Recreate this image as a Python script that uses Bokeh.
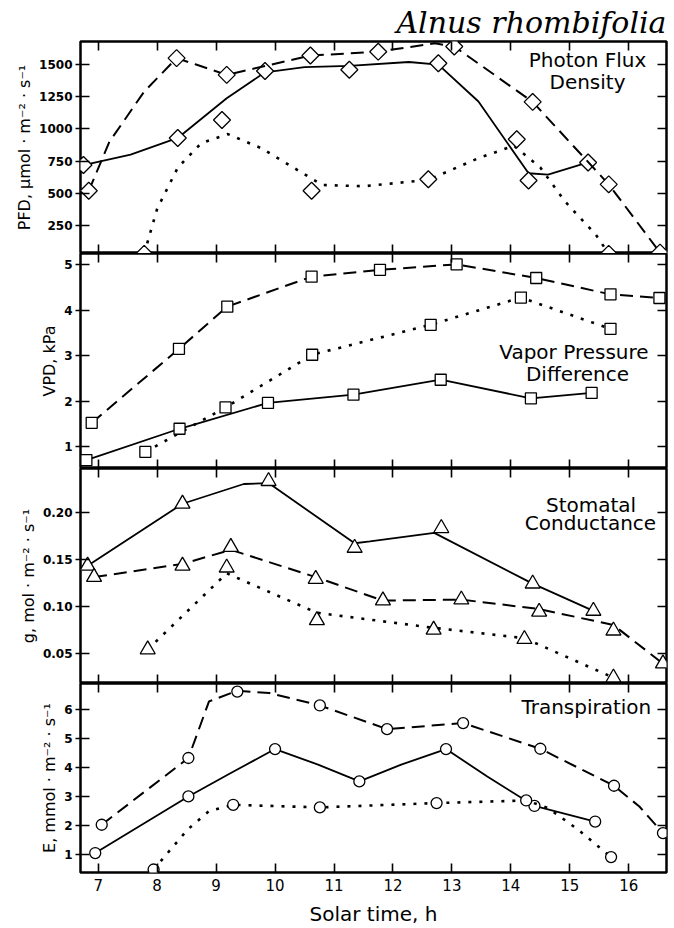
from bokeh.plotting import figure
from bokeh.layouts import column
from bokeh.models import Range1d, LinearAxis, FixedTicker, Label, Title, PrintfTickFormatter
from bokeh.embed import file_html
from bokeh.resources import INLINE

# ---------------- data ----------------
hours = [7, 8, 9, 10, 11, 12, 13, 14, 15, 16]

# Photon flux density (umol m-2 s-1)
pfd_solid_x = [6.75, 8.35, 9.83, 11.26, 12.77, 14.30, 15.31]
pfd_solid_y = [720, 930, 1450, 1460, 1510, 600, 740]
pfd_solid_lx = [6.75, 7.55, 8.35, 9.18, 9.83, 10.5, 11.26, 12.27, 12.77, 13.45, 14.3, 14.63, 15.31]
pfd_solid_ly = [720, 800, 930, 1238, 1440, 1480, 1490, 1520, 1500, 1213, 656, 645, 740]

pfd_dash_x = [6.84, 8.33, 9.18, 10.60, 11.75, 13.04, 14.37, 15.66, 16.53]
pfd_dash_y = [520, 1550, 1420, 1570, 1600, 1640, 1210, 570, 40]
pfd_dash_lx = [6.84, 7.19, 7.78, 8.33, 8.66, 9.18, 10.60, 11.75, 12.71, 13.04, 14.37, 15.66, 16.53]
pfd_dash_ly = [520, 900, 1290, 1550, 1500, 1420, 1570, 1600, 1665, 1640, 1210, 570, 40]

pfd_dot_x = [7.78, 9.10, 10.62, 12.60, 14.10, 15.66]
pfd_dot_y = [30, 1070, 520, 610, 920, 30]
pfd_dot_lx = [7.78, 8.0, 8.35, 8.75, 9.20, 9.77, 10.8, 11.5, 12.6, 13.45, 14.05, 14.5, 14.92, 15.44, 15.66]
pfd_dot_ly = [30, 380, 700, 890, 960, 850, 565, 555, 605, 773, 870, 700, 436, 180, 30]

# Vapor pressure difference (kPa)
vpd_dash_x = [6.89, 8.37, 9.19, 10.62, 11.78, 13.08, 14.43, 15.69, 16.52]
vpd_dash_y = [1.52, 3.15, 4.08, 4.74, 4.89, 5.01, 4.71, 4.35, 4.27]
vpd_dot_x = [7.80, 9.16, 10.63, 12.64, 14.17, 15.69]
vpd_dot_y = [0.88, 1.86, 3.02, 3.68, 4.28, 3.59]
vpd_solid_x = [6.80, 8.38, 9.88, 11.33, 12.81, 14.34, 15.37]
vpd_solid_y = [0.70, 1.39, 1.96, 2.14, 2.47, 2.06, 2.18]

# Stomatal conductance (mol m-2 s-1)
g_solid_x = [6.82, 8.43, 9.89, 11.35, 12.82, 14.37, 15.40]
g_solid_y = [0.143, 0.209, 0.233, 0.162, 0.183, 0.124, 0.095]
g_solid_lx = [6.82, 8.43, 9.47, 9.89, 11.35, 11.61, 12.70, 14.37, 15.40]
g_solid_ly = [0.143, 0.209, 0.230, 0.231, 0.167, 0.169, 0.178, 0.124, 0.095]

g_dash_x = [6.93, 8.43, 9.25, 10.69, 11.83, 13.16, 14.48, 15.74, 16.58]
g_dash_y = [0.131, 0.143, 0.163, 0.129, 0.106, 0.107, 0.094, 0.074, 0.039]
g_dash_lx = [6.93, 8.43, 9.25, 10.69, 11.83, 13.16, 14.48, 15.74, 16.58]
g_dash_ly = [0.131, 0.145, 0.160, 0.131, 0.106, 0.107, 0.097, 0.080, 0.039]

g_dot_x = [7.84, 9.18, 10.71, 12.69, 14.23, 15.74]
g_dot_y = [0.054, 0.141, 0.085, 0.075, 0.065, 0.024]
g_dot_lx = [7.84, 9.18, 10.71, 12.69, 14.23, 15.74]
g_dot_ly = [0.054, 0.135, 0.093, 0.077, 0.066, 0.024]

# Transpiration (mmol m-2 s-1)
e_dash_x = [7.06, 8.53, 9.36, 10.76, 11.90, 13.19, 14.50, 15.75, 16.58]
e_dash_y = [2.02, 4.33, 6.63, 6.15, 5.33, 5.54, 4.65, 3.37, 1.73]
e_dash_lx = [7.06, 8.53, 8.88, 9.36, 9.9, 10.76, 11.90, 13.19, 14.50, 15.75, 16.18, 16.58]
e_dash_ly = [2.02, 4.33, 6.29, 6.66, 6.58, 6.15, 5.33, 5.54, 4.65, 3.37, 2.65, 1.73]

e_solid_x = [6.95, 8.53, 10.00, 11.43, 12.90, 14.40, 15.43]
e_solid_y = [1.04, 3.00, 4.64, 3.52, 4.64, 2.67, 2.13]
e_solid_lx = [6.95, 8.53, 9.25, 10.00, 10.73, 11.43, 12.14, 12.90, 13.60, 14.40, 15.43]
e_solid_ly = [1.04, 3.00, 3.81, 4.64, 4.10, 3.52, 4.10, 4.64, 3.69, 2.67, 2.13]

e_dot_x = [7.94, 9.29, 10.76, 12.74, 14.26, 15.70]
e_dot_y = [0.47, 2.71, 2.62, 2.77, 2.86, 0.90]
e_dot_lx = [7.94, 8.52, 8.88, 9.29, 10.76, 12.74, 14.26, 14.63, 15.14, 15.70]
e_dot_ly = [0.47, 1.86, 2.49, 2.71, 2.62, 2.77, 2.86, 2.60, 1.85, 0.90]

pfd_ticks = [250, 500, 750, 1000, 1250, 1500]
vpd_ticks = [1, 2, 3, 4, 5]
g_ticks = [0.05, 0.10, 0.15, 0.20]
e_ticks = [1, 2, 3, 4, 5, 6]

# ---------------- styling ----------------
SANS = "DejaVu Sans"
FW = 586
xr = Range1d(6.70, 16.64)

DASH = {"solid": "solid", "dash": "13 7", "dot": "3 8"}
LW = {"solid": 1.8, "dash": 2.0, "dot": 2.6}


def tick_only_axis(ticks):
    ax = LinearAxis(ticker=FixedTicker(ticks=ticks))
    ax.axis_line_color = None
    ax.major_tick_in = 9
    ax.major_tick_out = 0
    ax.major_tick_line_width = 1.6
    ax.major_tick_line_color = "black"
    ax.minor_tick_line_color = None
    ax.major_label_text_color = None
    ax.major_label_text_font_size = "1px"
    ax.major_label_standoff = 0
    return ax


def make_panel(frame_h, yr, yticks, ylabel, fmt=None, last=False):
    p = figure(frame_width=FW, frame_height=frame_h, x_range=xr, y_range=Range1d(*yr),
               output_backend="svg", toolbar_location=None,
               x_axis_location=None, y_axis_location=None,
               min_border_left=80, min_border_right=2, min_border_top=0, min_border_bottom=0)
    p.xgrid.visible = False
    p.ygrid.visible = False
    p.outline_line_color = "black"
    p.outline_line_width = 2.5
    p.background_fill_color = "white"
    p.border_fill_color = "white"

    left = LinearAxis(ticker=FixedTicker(ticks=yticks), axis_label=ylabel)
    left.axis_line_color = None
    left.major_tick_in = 9
    left.major_tick_out = 5
    left.major_tick_line_width = 1.6
    left.major_tick_line_color = "black"
    left.minor_tick_line_color = None
    left.major_label_text_font = SANS
    left.major_label_text_font_style = "bold"
    left.major_label_text_font_size = "12px"
    left.major_label_text_color = "black"
    left.major_label_standoff = 3
    left.axis_label_text_font = SANS
    left.axis_label_text_font_style = "normal"
    left.axis_label_text_font_size = "16px"
    left.axis_label_text_color = "black"
    left.axis_label_standoff = 2
    if fmt:
        left.formatter = PrintfTickFormatter(format=fmt)
    p.add_layout(left, "left")

    p.add_layout(tick_only_axis(yticks), "right")
    p.add_layout(tick_only_axis(hours), "above")

    if last:
        bot = LinearAxis(ticker=FixedTicker(ticks=hours), axis_label="Solar time, h")
        bot.axis_line_color = None
        bot.major_tick_in = 9
        bot.major_tick_out = 0
        bot.major_tick_line_width = 1.6
        bot.major_tick_line_color = "black"
        bot.minor_tick_line_color = None
        bot.major_label_text_font = SANS
        bot.major_label_text_font_size = "15px"
        bot.major_label_text_color = "black"
        bot.major_label_standoff = 6
        bot.axis_label_text_font = SANS
        bot.axis_label_text_font_style = "normal"
        bot.axis_label_text_font_size = "20px"
        bot.axis_label_text_color = "black"
        bot.axis_label_standoff = 8
        p.add_layout(bot, "below")
    else:
        p.add_layout(tick_only_axis(hours), "below")
    return p


def series(p, lx, ly, mx, my, style, marker, size, angle=0.0):
    p.line(lx, ly, line_color="black", line_width=LW[style], line_dash=DASH[style])
    p.scatter(mx, my, marker=marker, size=size, angle=angle, fill_color="white",
              line_color="black", line_width=1.3)


def label(p, x, y, text):
    p.add_layout(Label(x=x, y=y, text=text, text_align="center", text_baseline="middle",
                       text_font=SANS, text_font_size="20px", text_color="black"))


# Panel 1: PFD
p1 = make_panel(212, (33, 1679), pfd_ticks, "PFD, \u03bcmol \u00b7 m\u207b\u00b2 \u00b7 s\u207b\u00b9")
p1.title = Title(text="Alnus rhombifolia", align="right", text_font="DejaVu Serif",
                 text_font_style="italic", text_font_size="30px", text_color="black",
                 standoff=4, offset=0)
ROT = 0.785398
series(p1, pfd_solid_lx, pfd_solid_ly, pfd_solid_x, pfd_solid_y, "solid", "square", 12, ROT)
series(p1, pfd_dash_lx, pfd_dash_ly, pfd_dash_x, pfd_dash_y, "dash", "square", 12, ROT)
series(p1, pfd_dot_lx, pfd_dot_ly, pfd_dot_x, pfd_dot_y, "dot", "square", 12, ROT)
label(p1, 15.3, 1539, "Photon Flux")
label(p1, 15.3, 1368, "Density")

# Panel 2: VPD
p2 = make_panel(215, (0.515, 5.25), vpd_ticks, "VPD, kPa")
series(p2, vpd_dash_x, vpd_dash_y, vpd_dash_x, vpd_dash_y, "dash", "square", 11)
series(p2, vpd_dot_x, vpd_dot_y, vpd_dot_x, vpd_dot_y, "dot", "square", 11)
series(p2, vpd_solid_x, vpd_solid_y, vpd_solid_x, vpd_solid_y, "solid", "square", 11)
label(p2, 15.07, 3.09, "Vapor Pressure")
label(p2, 15.13, 2.59, "Difference")

# Panel 3: g
p3 = make_panel(215, (0.0178, 0.2465), g_ticks, "g, mol \u00b7 m\u207b\u00b2 \u00b7 s\u207b\u00b9", fmt="%.2f")
series(p3, g_solid_lx, g_solid_ly, g_solid_x, g_solid_y, "solid", "triangle", 15)
series(p3, g_dash_lx, g_dash_ly, g_dash_x, g_dash_y, "dash", "triangle", 15)
series(p3, g_dot_lx, g_dot_ly, g_dot_x, g_dot_y, "dot", "triangle", 15)
label(p3, 15.36, 0.208, "Stomatal")
label(p3, 15.35, 0.188, "Conductance")

# Panel 4: E
p4 = make_panel(189, (0.366, 6.91), e_ticks, "E, mmol \u00b7 m\u207b\u00b2 \u00b7 s\u207b\u00b9", last=True)
series(p4, e_dash_lx, e_dash_ly, e_dash_x, e_dash_y, "dash", "circle", 11)
series(p4, e_solid_lx, e_solid_ly, e_solid_x, e_solid_y, "solid", "circle", 11)
series(p4, e_dot_lx, e_dot_ly, e_dot_x, e_dot_y, "dot", "circle", 11)
label(p4, 15.28, 6.08, "Transpiration")

layout = column(p1, p2, p3, p4, spacing=0)
open("out.html", "w").write(file_html(layout, INLINE))
